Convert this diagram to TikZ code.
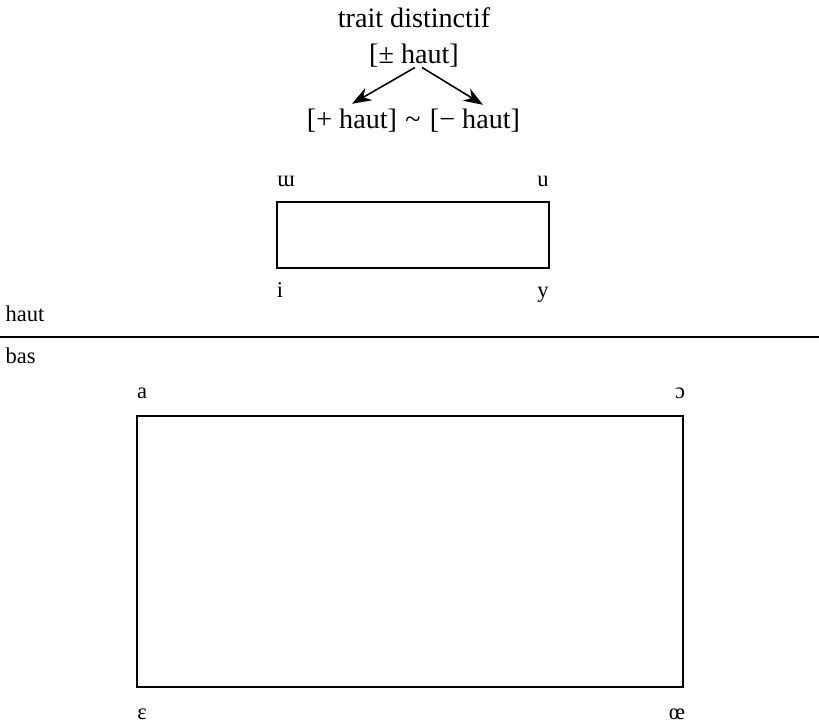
\documentclass[tikz,border=0pt]{standalone}
\usepackage{fontspec}
\setmainfont{Liberation Serif}
\usetikzlibrary{arrows.meta}

\begin{document}
\begin{tikzpicture}
  [x=0.01cm,y=-0.01cm,every node/.style={inner sep=0pt,anchor=base},
   feat/.style={font=\fontsize{8}{9.6}\selectfont},
   vow/.style={font=\fontsize{6.4}{7.7}\selectfont},
   arr/.style={-{Stealth[length=5.5pt,width=4pt]},line width=0.45pt}]
  \useasboundingbox (0,0) rectangle (819,727);

  % trait et ses deux valeurs
  \node[feat] (trait) at (414,27) {trait distinctif};
  \node[feat] (pm) at (414,63) {[± haut]};
  \node[feat] (plus) at (352,128) {[+ haut]};
  \node[feat] (alt) at (413,128) {\textasciitilde};
  \node[feat] (minus) at (475,128) {[− haut]};

  \draw[arr] ([shift={(1,0)}]pm.south) -- ([shift={(0,-4)}]plus.north);
  \draw[arr] ([shift={(8,0)}]pm.south) -- ([shift={(8,-3)}]minus.north);

  % voyelles hautes
  \foreach \name/\x/\y/\sym in {uu/286/186/ɯ, u/543/186/u, i/280/297/i, y/543/297/y}
    \node[vow] (\name) at (\x,\y) {\sym};
  \draw[line width=0.45pt] (277,202) rectangle (549,268);

  % frontiere haut / bas
  \coordinate (ligW) at (0,337);
  \coordinate (ligE) at (819,337);
  \draw[line width=0.55pt] (ligW) -- (ligE);
  \node[vow,anchor=base west] (haut) at (5,321) {haut};
  \node[vow,anchor=base west] (bas) at (5,363) {bas};

  % voyelles basses
  \foreach \name/\x/\y/\sym in {a/142/398/a, oo/680/398/ɔ, ee/142/719/ɛ, oe/677/719/œ}
    \node[vow] (\name) at (\x,\y) {\sym};
  \draw[line width=0.45pt] (137,416) rectangle (683,687);
\end{tikzpicture}
\end{document}
